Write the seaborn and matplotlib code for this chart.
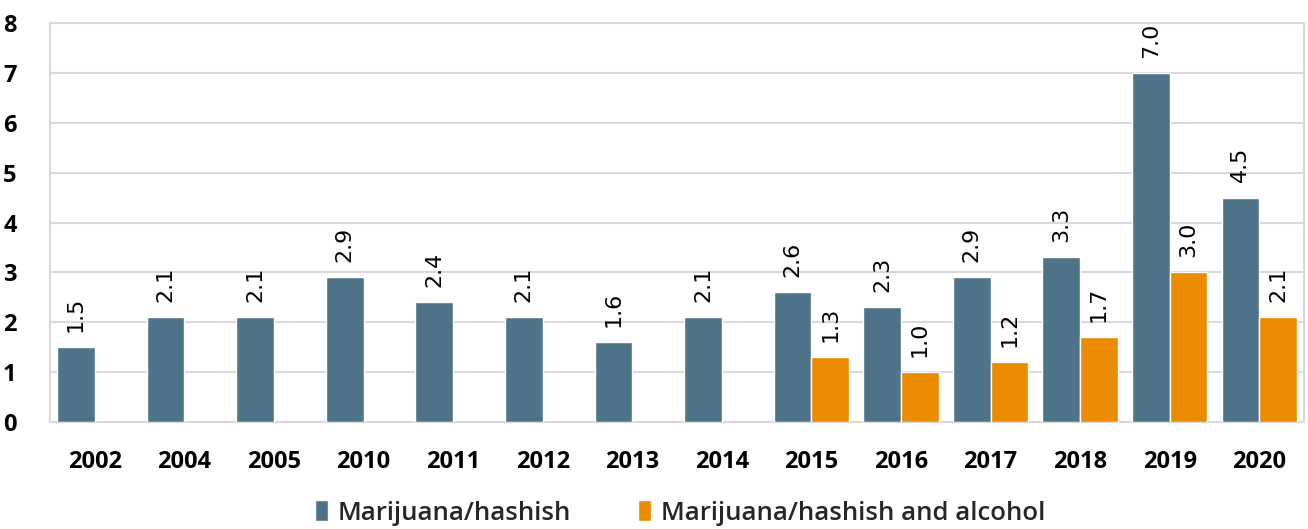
import matplotlib
matplotlib.use("Agg")
import matplotlib.pyplot as plt
import seaborn as sns
import pandas as pd
import numpy as np

years = ["2002", "2004", "2005", "2010", "2011", "2012", "2013", "2014",
         "2015", "2016", "2017", "2018", "2019", "2020"]
marijuana = [1.5, 2.1, 2.1, 2.9, 2.4, 2.1, 1.6, 2.1, 2.6, 2.3, 2.9, 3.3, 7.0, 4.5]
mar_alcohol = [np.nan] * 8 + [1.3, 1.0, 1.2, 1.7, 3.0, 2.1]
series = ["Marijuana/hashish", "Marijuana/hashish and alcohol"]
colors = ["#4F7489", "#EB8B00"]
yticks = [0, 1, 2, 3, 4, 5, 6, 7, 8]

df = pd.DataFrame({
    "year": years * 2,
    "value": marijuana + mar_alcohol,
    "series": [series[0]] * len(years) + [series[1]] * len(years),
})

sns.set_theme(style="white")
plt.rcParams["font.family"] = ["Open Sans", "DejaVu Sans"]

fig = plt.figure(figsize=(13.08, 5.29), dpi=100)
ax = fig.add_axes([50 / 1308, 1 - 422 / 529, (1304 - 50) / 1308, (422 - 23) / 529])

sns.barplot(data=df, x="year", y="value", hue="series", order=years,
            hue_order=series, palette=colors, saturation=1, width=0.84, dodge=True,
            edgecolor="white", linewidth=1, errorbar=None, ax=ax, zorder=3)

for cont in ax.containers:
    labels = []
    for b in cont:
        h = b.get_height()
        labels.append("" if (h is None or np.isnan(h) or h == 0) else f"{h:.1f}")
    ax.bar_label(cont, labels=labels, rotation=90, padding=11,
                 fontsize=16, family="DejaVu Sans", color="black")

ax.set_ylim(0, 8)
ax.set_yticks(yticks)
ax.set_yticklabels([str(t) for t in yticks])
ax.yaxis.grid(True, color="#D9D9D9", linewidth=1.5, zorder=0)
ax.set_axisbelow(True)
for s in ax.spines.values():
    s.set_visible(True)
    s.set_color("#D9D9D9")
    s.set_linewidth(1.5)
ax.set_xlabel("")
ax.set_ylabel("")
ax.tick_params(axis="both", length=0)
ax.tick_params(axis="x", pad=20)
ax.tick_params(axis="y", pad=24)
for lab in ax.get_xticklabels() + ax.get_yticklabels():
    lab.set_fontsize(17)
    lab.set_fontweight("bold")
    lab.set_color("black")

handles, lbls = ax.get_legend_handles_labels()
ax.legend_.remove()
leg = fig.legend(handles, lbls, loc="center", bbox_to_anchor=(0.52, 1 - 513 / 529),
                 ncol=2, frameon=False, handlelength=0.5, handleheight=0.85,
                 handletextpad=0.4, columnspacing=2.6,
                 prop={"family": "Open Sans", "weight": "semibold", "size": 18.5})

fig.savefig("out.png", dpi=100)
